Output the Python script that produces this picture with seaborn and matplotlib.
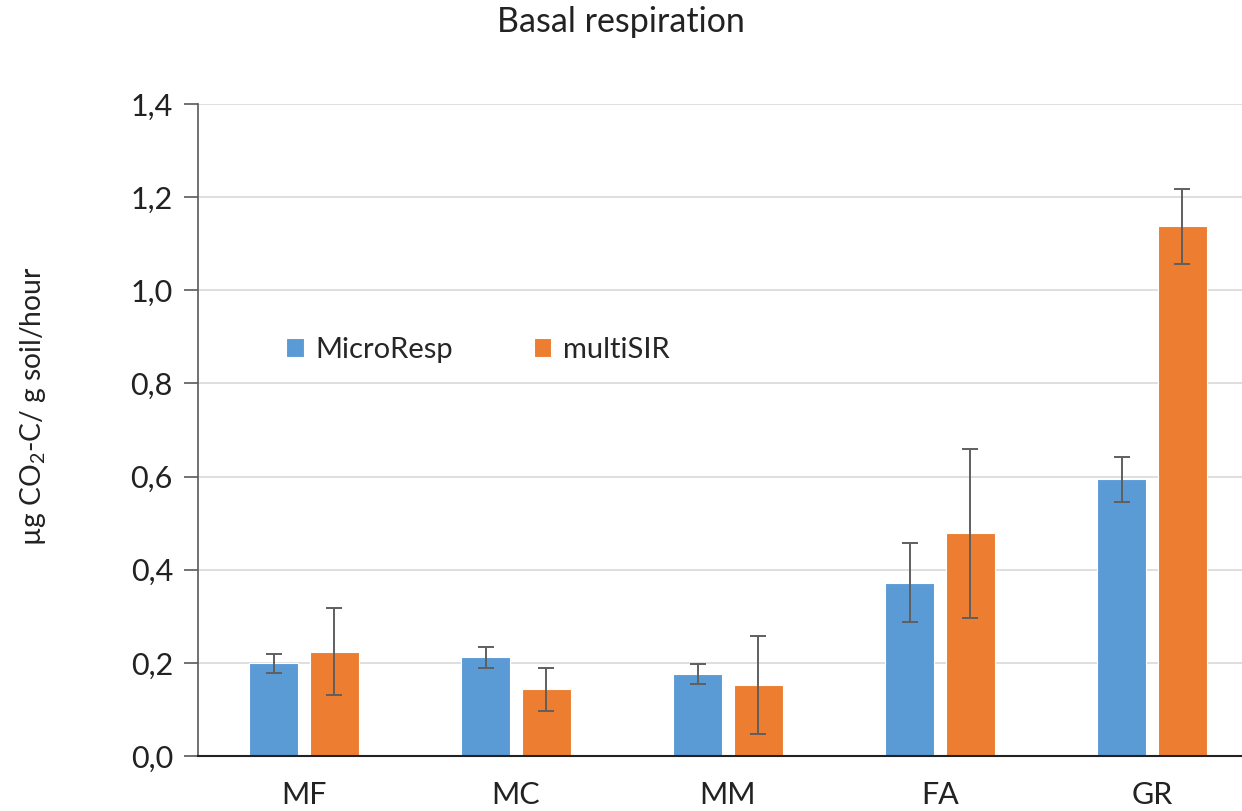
import numpy as np
import pandas as pd
import matplotlib
matplotlib.use("Agg")
import matplotlib.pyplot as plt
import seaborn as sns

# 数据
sites = ["MF", "MC", "MM", "FA", "GR"]
methods = ["MicroResp", "multiSIR"]
microresp_mean = [0.199, 0.212, 0.176, 0.372, 0.594]
microresp_err = [0.020, 0.023, 0.022, 0.085, 0.048]
multisir_mean = [0.224, 0.143, 0.153, 0.478, 1.137]
multisir_err = [0.094, 0.047, 0.105, 0.182, 0.081]
y_ticks = [0.0, 0.2, 0.4, 0.6, 0.8, 1.0, 1.2, 1.4]
y_tick_labels = ["0,0", "0,2", "0,4", "0,6", "0,8", "1,0", "1,2", "1,4"]

colors = {"MicroResp": "#5B9BD5", "multiSIR": "#ED7D31"}

df = pd.DataFrame({
    "site": sites * 2,
    "method": [methods[0]] * len(sites) + [methods[1]] * len(sites),
    "value": microresp_mean + multisir_mean,
    "err": microresp_err + multisir_err,
})

sns.set_theme(style="white")
plt.rcParams["font.family"] = ["Lato", "DejaVu Sans"]
plt.rcParams["mathtext.fontset"] = "custom"
plt.rcParams["mathtext.rm"] = "Lato"
plt.rcParams["mathtext.it"] = "Lato"

fig = plt.figure(figsize=(12.42, 8.11), dpi=100)
ax = fig.add_axes([0.1594, 0.0678, 0.8535, 0.804])

sns.barplot(data=df, x="site", y="value", hue="method", order=sites,
            hue_order=methods, palette=colors, saturation=1, width=0.575, gap=0.21,
            errorbar=None, edgecolor="white", linewidth=0.8, ax=ax, zorder=2)

# 误差线
for cont, m in zip(ax.containers, methods):
    sub = df[df["method"] == m].set_index("site").loc[sites]
    xs = [b.get_x() + b.get_width() / 2 for b in cont]
    ax.errorbar(xs, sub["value"], yerr=sub["err"], fmt="none",
                ecolor="#5f5f5f", elinewidth=1.4, capsize=6, capthick=1.4, zorder=3)

ax.set_xlim(-0.5, 4.5)
ax.set_ylim(0, 1.4)
ax.set_yticks(y_ticks)
ax.set_yticklabels(y_tick_labels)
ax.yaxis.grid(True, color="#d9d9d9", linewidth=1.2, zorder=0)
ax.set_axisbelow(True)

for s in ["top", "right"]:
    ax.spines[s].set_visible(False)
ax.spines["left"].set_color("#595959")
ax.spines["left"].set_linewidth(1.2)
ax.spines["bottom"].set_color("#222222")
ax.spines["bottom"].set_linewidth(1.5)

ax.tick_params(axis="y", which="major", left=True, length=10, width=1.2,
               color="#595959", labelsize=22, pad=8, labelcolor="#222222")
ax.tick_params(axis="x", bottom=False, labelsize=22, pad=12, labelcolor="#222222")
ax.set_xlabel("")
ax.set_ylabel(r"µg CO$_2$-C/ g soil/hour", fontsize=20.3, color="#222222")
ax.yaxis.set_label_coords(-0.1415, 0.537)

fig.text(0.5, 0.993, "Basal respiration", ha="center", va="top", fontsize=24.5, color="#222222")

ax.legend(loc="center left", bbox_to_anchor=(260 / 1242, 1 - 350 / 811),
          bbox_transform=fig.transFigure, ncol=2, frameon=False, fontsize=21,
          handlelength=0.6, handleheight=0.6, handletextpad=0.4, columnspacing=2.77)

fig.savefig("out.png", dpi=100)
